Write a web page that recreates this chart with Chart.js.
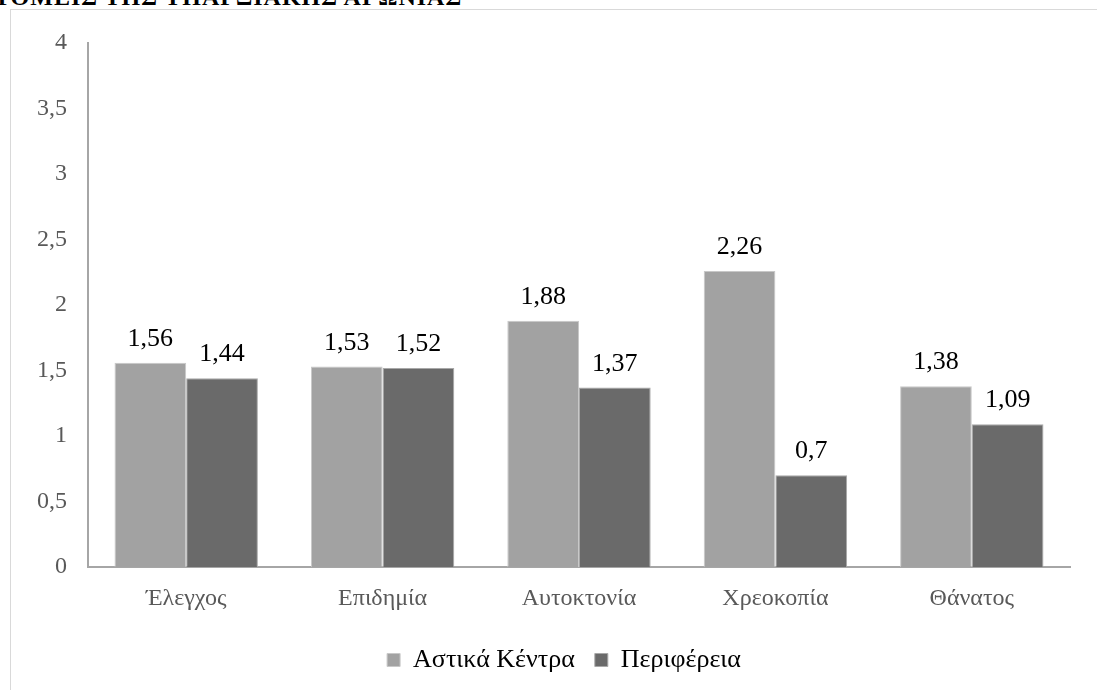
<!DOCTYPE html>
<html>
<head>
<meta charset="utf-8">
<script src="https://cdn.jsdelivr.net/npm/chart.js@4.4.1/dist/chart.umd.min.js"></script>
<style>
  html, body { margin: 0; padding: 0; background: #ffffff; overflow: hidden; }
  #wrap { position: relative; width: 1097px; height: 690px; }
  #frame { position: absolute; left: 10px; top: 9px; width: 1200px; height: 800px; border: 1px solid #d9d9d9; box-sizing: border-box; }
  #title { position: absolute; left: -6px; top: -16px; font-family: "Liberation Serif", serif; font-weight: bold; font-size: 24px; white-space: nowrap; color: #000; letter-spacing: 1px; }
  #cv { position: absolute; left: 0; top: 0; }
</style>
</head>
<body>
<div id="wrap">
  <div id="frame"></div>
  <div id="title">ΤΟΜΕΙΣ ΤΗΣ ΥΠΑΡΞΙΑΚΗΣ ΑΓΩΝΙΑΣ</div>
  <canvas id="cv" width="1097" height="690"></canvas>
</div>
<script>
const categories = ["Έλεγχος", "Επιδημία", "Αυτοκτονία", "Χρεοκοπία", "Θάνατος"];
const seriesNames = ["Αστικά Κέντρα", "Περιφέρεια"];
const urbanValues = [1.56, 1.53, 1.88, 2.26, 1.38];
const regionValues = [1.44, 1.52, 1.37, 0.70, 1.09];
const yTicks = [0, 0.5, 1, 1.5, 2, 2.5, 3, 3.5, 4];

const fmt = v => String(v).replace('.', ',');
const SERIF = '"Liberation Serif", "Times New Roman", serif';

const valueLabels = {
  id: 'valueLabels',
  afterDatasetsDraw(chart) {
    const ctx = chart.ctx;
    ctx.save();
    ctx.font = '26px ' + SERIF;
    ctx.fillStyle = '#000000';
    ctx.textAlign = 'center';
    ctx.textBaseline = 'alphabetic';
    chart.data.datasets.forEach((ds, i) => {
      chart.getDatasetMeta(i).data.forEach((bar, j) => {
        ctx.fillText(fmt(ds.data[j]), bar.x, bar.y - 17);
      });
    });
    ctx.restore();
  }
};

const legendShift = {
  id: 'legendShift',
  afterLayout(chart) {
    if (chart.legend) {
      chart.legend.left += 29;
      chart.legend.right += 29;
    }
  }
};

new Chart(document.getElementById('cv'), {
  type: 'bar',
  data: {
    labels: categories,
    datasets: [
      { label: seriesNames[0], data: urbanValues, backgroundColor: '#a2a2a2', borderColor: '#c8c8c8', borderWidth: 1 },
      { label: seriesNames[1], data: regionValues, backgroundColor: '#6a6a6a', borderColor: '#a8a8a8', borderWidth: 1 }
    ]
  },
  options: {
    responsive: false,
    animation: false,
    layout: { padding: { top: 43, left: 0, right: 27, bottom: 7 } },
    datasets: { bar: { categoryPercentage: 0.73, barPercentage: 1.0 } },
    plugins: {
      tooltip: { enabled: false },
      legend: {
        position: 'bottom',
        labels: {
          boxWidth: 13, boxHeight: 13, padding: 20,
          color: '#000000',
          font: { family: SERIF, size: 26 }
        }
      }
    },
    scales: {
      x: {
        grid: { display: false, drawTicks: false },
        border: { display: true, color: '#a6a6a6', width: 2 },
        ticks: { color: '#595959', padding: 17, font: { family: SERIF, size: 24 } },
        afterFit(scale) { scale.height = 60; }
      },
      y: {
        min: 0, max: 4,
        afterBuildTicks(scale) { scale.ticks = yTicks.map(v => ({ value: v })); },
        grid: { display: false, drawTicks: false },
        border: { display: true, color: '#a6a6a6', width: 2 },
        ticks: {
          color: '#595959', padding: 21,
          font: { family: SERIF, size: 24 },
          callback: v => fmt(v)
        },
        afterFit(scale) { scale.width = 88; }
      }
    }
  },
  plugins: [valueLabels, legendShift]
});
</script>
</body>
</html>
